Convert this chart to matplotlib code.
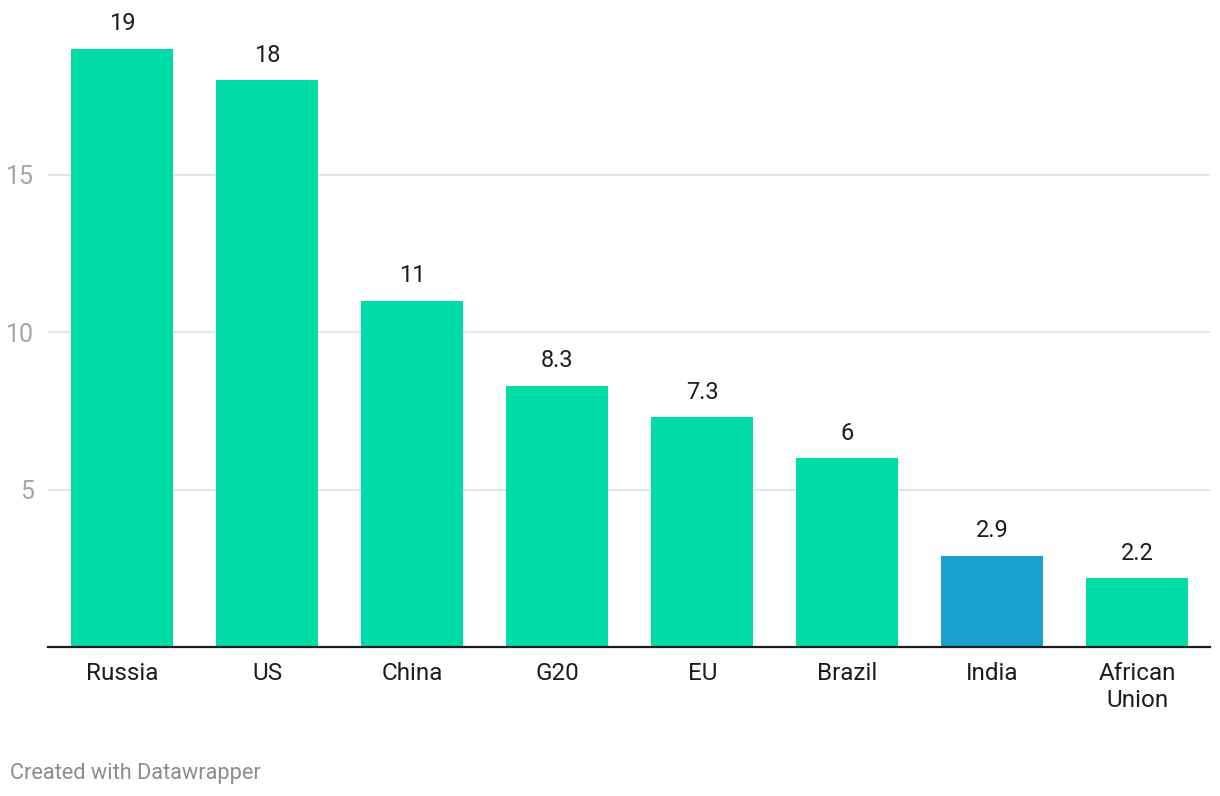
import numpy as np
import matplotlib.pyplot as plt

plt.rcParams['font.family'] = ['Roboto', 'DejaVu Sans']

countries = ["Russia", "US", "China", "G20", "EU", "Brazil", "India", "African\nUnion"]
values = [19, 18, 11, 8.3, 7.3, 6, 2.9, 2.2]
value_labels = ["19", "18", "11", "8.3", "7.3", "6", "2.9", "2.2"]
y_ticks = [5, 10, 15]

GREEN = "#00dca6"
BLUE = "#18a1cd"
colors = [BLUE if c == "India" else GREEN for c in countries]

fig = plt.figure(figsize=(12.2, 7.96), dpi=100)
ax = fig.add_axes([48 / 1220, 149 / 796, 1162 / 1220, 630 / 796])

x = np.arange(len(countries))
ax.bar(x, values, width=0.703, color=colors, zorder=2)

for xi, v, lab in zip(x, values, value_labels):
    ax.annotate(lab, (xi, v), xytext=(0, 9.5), textcoords="offset points",
                ha="center", va="bottom", fontsize=17, color="#1d1d1d")

ax.set_xlim(-0.51, len(countries) - 0.5)
ax.set_ylim(0, 20)

ax.set_yticks(y_ticks)
ax.set_yticklabels([str(t) for t in y_ticks])
ax.grid(axis="y", color="#e4e4e4", linewidth=1.4, zorder=0)
ax.tick_params(axis="y", length=0, pad=10, labelsize=18, labelcolor="#a6a6a6")

ax.set_xticks(x)
ax.set_xticklabels(countries, linespacing=1.2)
ax.tick_params(axis="x", length=0, pad=11, labelsize=17.5, labelcolor="#1d1d1d")

for side in ["top", "right", "left"]:
    ax.spines[side].set_visible(False)
ax.spines["bottom"].set_color("#1d1d1d")
ax.spines["bottom"].set_linewidth(1.6)
ax.spines["bottom"].set_zorder(3)

fig.text(10 / 1220, 1 - 774 / 796, "Created with Datawrapper", ha="left", va="center",
         fontsize=15.7, color="#8c8c8c")

fig.savefig("out.png", dpi=100)
